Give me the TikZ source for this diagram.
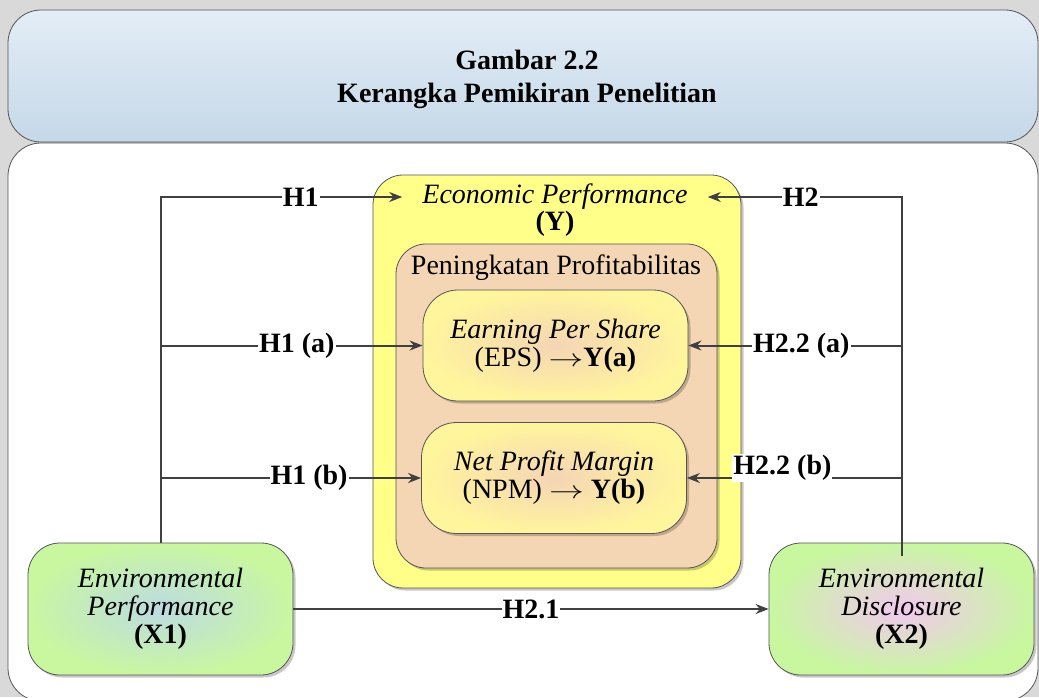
\documentclass[tikz,border=0pt]{standalone}
\usepackage{fontspec}
\setmainfont{Liberation Serif}
\usetikzlibrary{arrows.meta,shadows}

\definecolor{bggray}{RGB}{217,217,217}
\definecolor{linegray}{RGB}{64,64,64}
\definecolor{edgegray}{RGB}{85,85,85}
\definecolor{titletop}{RGB}{227,237,246}
\definecolor{titlebot}{RGB}{197,216,232}
\definecolor{econyellow}{RGB}{255,255,138}
\definecolor{profpeach}{RGB}{245,214,180}
\definecolor{ratioouter}{RGB}{255,245,156}
\definecolor{ratioinner}{RGB}{245,213,181}
\definecolor{envgreen}{RGB}{200,247,160}
\definecolor{envblue}{RGB}{188,219,226}
\definecolor{envpink}{RGB}{242,200,240}

\newcommand{\diagfont}{\fontsize{28}{28}\selectfont}
\newcommand{\toarrow}{\scalebox{1.4}[1]{$\rightarrow$}}

\tikzset{
	softshadow/.style={drop shadow={shadow xshift=2.5pt, shadow yshift=-2.5pt, fill=black, opacity=0.22}},
	box/.style={draw=edgegray, line width=0.8pt, align=center, inner sep=0pt, softshadow},
	ratio/.style={box, rounded corners=35pt, minimum width=265pt, minimum height=111pt,
		inner color=ratioinner, outer color=ratioouter},
	env/.style={box, rounded corners=32pt, minimum width=265pt, minimum height=132pt, outer color=envgreen},
	conn/.style={draw=linegray, line width=2pt, -{Stealth[length=13pt,width=10pt]}},
	hyp/.style={fill=white, font=\diagfont\bfseries, inner sep=1pt},
}

\begin{document}
\begin{tikzpicture}[x=1pt, y=-1pt, font=\diagfont]
	% Latar
	\useasboundingbox (0,0) rectangle (1039,697);
	\fill[bggray] (0,0) rectangle (1039,697);
	\clip (0,0) rectangle (1039,697);

	% Judul
	\draw[draw=edgegray, line width=0.8pt, top color=titletop, bottom color=titlebot, rounded corners=33pt]
		(8,10) rectangle (1038,142);
	\node[font=\fontsize{28}{33}\selectfont\bfseries, align=center] (title) at (527,79)
		{Gambar 2.2\\Kerangka Pemikiran Penelitian};

	% Bidang diagram
	\draw[draw=edgegray, line width=0.8pt, fill=white, rounded corners=33pt] (8,143) rectangle (1038,701);

	% Economic Performance (Y)
	\draw[draw=edgegray, line width=0.8pt, fill=econyellow, rounded corners=30pt, softshadow]
		(373,175) rectangle (741,588);
	\node[inner xsep=20pt] (econ) at (555,197) {\textit{Economic Performance}};
	\node (econY) at (555,224) {\textbf{(Y)}};

	% Peningkatan Profitabilitas
	\draw[draw=edgegray, line width=0.8pt, fill=profpeach, rounded corners=30pt, softshadow]
		(396,244) rectangle (717,568);
	\node (prof) at (556,268) {Peningkatan Profitabilitas};

	% Rasio
	\node[ratio] (eps) at (555.5,345.5) {\textit{Earning Per Share}\\(EPS) \toarrow\textbf{Y(a)}};
	\node[ratio] (npm) at (554,478) {\textit{Net Profit Margin}\\(NPM) \toarrow{} \textbf{Y(b)}};

	% Variabel independen
	\node[env, inner color=envblue] (X1) at (160.5,609) {\textit{Environmental}\\\textit{Performance}\\\textbf{(X1)}};
	\node[env, inner color=envpink] (X2) at (901.5,609) {\textit{Environmental}\\\textit{Disclosure}\\\textbf{(X2)}};

	% Hipotesis
	\draw[conn] (X1.north) |- node[hyp, pos=0.79] {H1} (econ.west);
	\draw[conn] (eps.west -| X1.north) -- node[hyp, pos=0.52] {H1 (a)} (eps.west);
	\draw[conn] (npm.west -| X1.north) -- node[hyp, pos=0.57] {H1 (b)} (npm.west);
	\draw[conn] ([yshift=-13pt]X2.north) |- node[hyp, pos=0.76] {H2} (econ.east);
	\draw[conn] (eps.east -| X2.north) -- node[hyp, pos=0.47] {H2.2 (a)} (eps.east);
	\draw[conn] (npm.east -| X2.north) -- node[hyp, pos=0.555, yshift=10pt] {H2.2 (b)} (npm.east);
	\draw[conn] (X1.east) -- node[hyp] {H2.1} (X2.west);
\end{tikzpicture}
\end{document}
